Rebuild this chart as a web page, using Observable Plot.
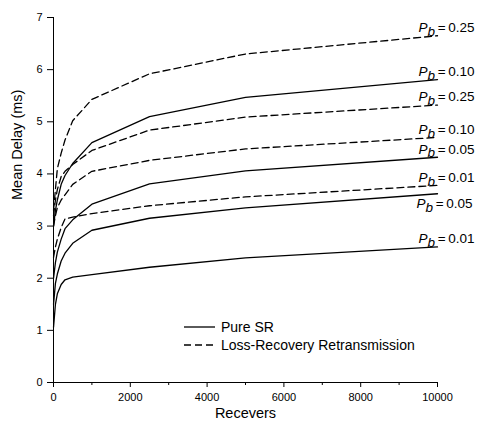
<!DOCTYPE html>
<html><head><meta charset="utf-8">
<script src="https://cdn.jsdelivr.net/npm/d3@7"></script>
<script src="https://cdn.jsdelivr.net/npm/@observablehq/plot@0.6"></script>
<style>body{margin:0;background:#fff;} #chart svg{display:block;}</style>
</head><body><div id="chart"></div>
<script>
// Receivers (x values)
const receivers = [1, 50, 100, 200, 300, 500, 1000, 2500, 5000, 10000];
// Pure SR curves (solid)
const srPb010  = [3.00, 3.30, 3.50, 3.80, 3.97, 4.20, 4.60, 5.10, 5.47, 5.81];
const srPb005a = [2.00, 2.30, 2.50, 2.75, 2.95, 3.12, 3.42, 3.81, 4.06, 4.32];
const srPb005b = [1.50, 1.90, 2.08, 2.33, 2.48, 2.67, 2.92, 3.15, 3.35, 3.62];
const srPb001  = [1.06, 1.50, 1.70, 1.88, 1.97, 2.02, 2.07, 2.21, 2.39, 2.60];
// Loss-Recovery Retransmission curves (dashed)
const lrPb025a = [3.30, 3.70, 4.10, 4.40, 4.65, 5.02, 5.43, 5.92, 6.30, 6.65];
const lrPb025b = [3.20, 3.50, 3.70, 3.95, 4.05, 4.18, 4.45, 4.84, 5.09, 5.32];
const lrPb010  = [3.00, 3.20, 3.35, 3.50, 3.60, 3.80, 4.05, 4.26, 4.48, 4.70];
const lrPb001  = [2.40, 2.60, 2.75, 2.97, 3.14, 3.17, 3.24, 3.39, 3.56, 3.78];
// Tick labels
const xTicks = [0, 2000, 4000, 6000, 8000, 10000];
const xMinorTicks = [1000, 3000, 5000, 7000, 9000];
const yTicks = [0, 1, 2, 3, 4, 5, 6, 7];
const legendNames = ["Pure SR", "Loss-Recovery Retransmission"];

const series = [
  {name: "srPb010",  kind: legendNames[0], pb: "0.10", values: srPb010},
  {name: "srPb005a", kind: legendNames[0], pb: "0.05", values: srPb005a},
  {name: "srPb005b", kind: legendNames[0], pb: "0.05", values: srPb005b},
  {name: "srPb001",  kind: legendNames[0], pb: "0.01", values: srPb001},
  {name: "lrPb025a", kind: legendNames[1], pb: "0.25", values: lrPb025a},
  {name: "lrPb025b", kind: legendNames[1], pb: "0.25", values: lrPb025b},
  {name: "lrPb010",  kind: legendNames[1], pb: "0.10", values: lrPb010},
  {name: "lrPb001",  kind: legendNames[1], pb: "0.01", values: lrPb001}
];
const rows = series.flatMap(s => receivers.map((r, i) => ({series: s.name, kind: s.kind, x: r, y: s.values[i]})));
const ends = series.map(s => ({name: s.name, pb: s.pb, x: receivers[receivers.length - 1], y: s.values[s.values.length - 1]}));
const labelBelowName = "srPb005b";

const font = "'Liberation Sans', Arial, Helvetica, sans-serif";

const chart = Plot.plot({
  width: 480,
  height: 423,
  marginLeft: 53,
  marginRight: 43,
  marginTop: 17,
  marginBottom: 41,
  style: {fontFamily: font, fontSize: "11px", color: "#000", background: "#fff", overflow: "visible"},
  x: {domain: [0, 10000]},
  y: {domain: [0, 7]},
  marks: [
    Plot.axisX({ticks: xTicks, tickSize: 5, tickPadding: 6, tickFormat: d => String(d), label: null, fontSize: 11}),
    Plot.axisX({ticks: xMinorTicks, tickSize: 3, tickFormat: () => "", label: null}),
    Plot.axisY({ticks: yTicks, tickSize: 6, tickPadding: 5, tickFormat: d => String(d), label: null, fontSize: 11}),
    Plot.ruleY([0], {stroke: "#000", strokeWidth: 1}),
    Plot.ruleX([0], {stroke: "#000", strokeWidth: 1}),
    Plot.line(rows.filter(d => d.kind === legendNames[0]), {x: "x", y: "y", z: "series", stroke: "#000", strokeWidth: 1.3}),
    Plot.line(rows.filter(d => d.kind === legendNames[1]), {x: "x", y: "y", z: "series", stroke: "#000", strokeWidth: 1.3, strokeDasharray: "7,4"}),
    Plot.text(ends.filter(d => d.name !== labelBelowName), {x: "x", y: "y", text: "pb", textAnchor: "start", dx: -19, dy: -8, fontSize: 13.5}),
    Plot.text(ends.filter(d => d.name === labelBelowName), {x: "x", y: "y", text: "pb", textAnchor: "start", dx: -21, dy: 10, fontSize: 13.5}),
    Plot.text(["Recevers"], {frameAnchor: "bottom", dy: 35, fontSize: 14.5}),
    Plot.text(["Mean Delay (ms)"], {frameAnchor: "left", dx: -36, rotate: -90, fontSize: 14.5})
  ]
});

const svg = d3.select(chart);
// Subscripted P_b labels
svg.selectAll("text").filter(function() { return /^0\.\d+$/.test(this.textContent); }).each(function() {
  const v = this.textContent;
  const t = d3.select(this);
  t.text(null);
  t.append("tspan").attr("font-style", "italic").text("P");
  t.append("tspan").attr("font-style", "italic").attr("dy", "0.28em").text("b");
  t.append("tspan").attr("dy", "-0.28em").text("\u2009=\u2009" + v);
});

// Legend (in plot frame)
const lg = svg.append("g").attr("font-family", font).attr("font-size", 14).attr("text-anchor", "start");
legendNames.forEach((name, i) => {
  const y = 327 + i * 18;
  lg.append("line").attr("x1", 184).attr("x2", 215).attr("y1", y).attr("y2", y)
    .attr("stroke", "#000").attr("stroke-width", 1.3)
    .attr("stroke-dasharray", i === 0 ? null : "7,4");
  lg.append("text").attr("x", 221).attr("y", y).attr("dy", "0.35em").attr("text-anchor", "start").text(name);
});

document.getElementById("chart").append(chart);
</script>
</body></html>
